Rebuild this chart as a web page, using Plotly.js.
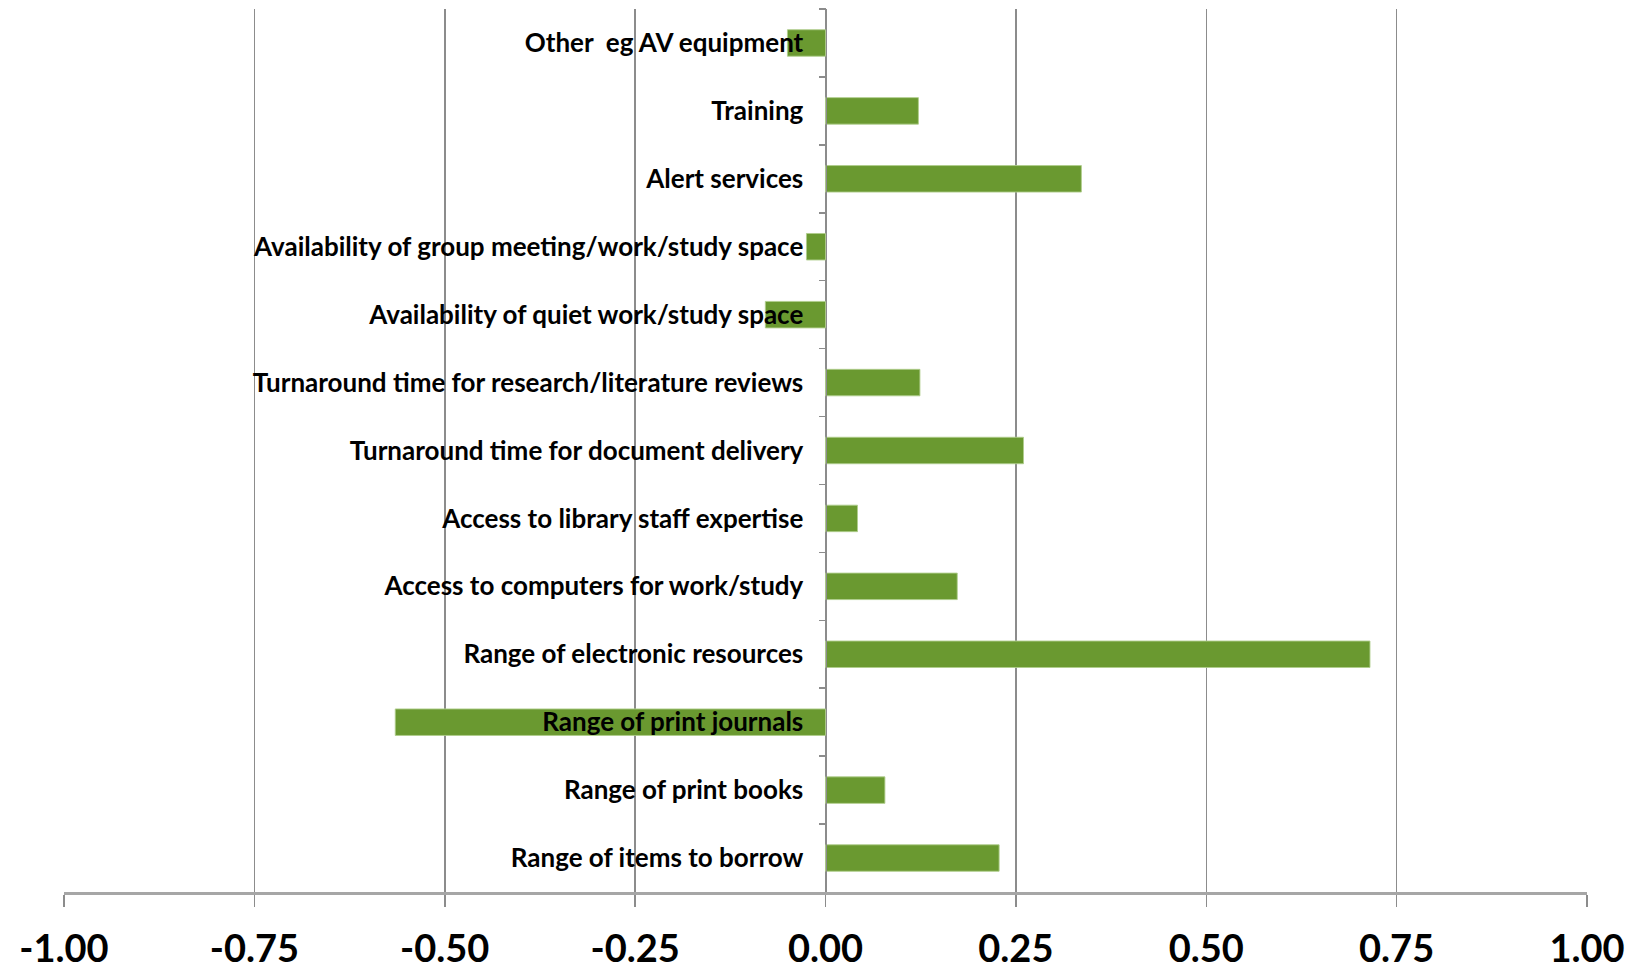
<!DOCTYPE html>
<html>
<head>
<meta charset="utf-8">
<script src="https://cdn.plot.ly/plotly-3.0.1.min.js"></script>
<style>
  html, body { margin: 0; padding: 0; background: #ffffff; }
  #chart { width: 1638px; height: 970px; }
</style>
</head>
<body>
<div id="chart"></div>
<script>
// Service areas, listed top to bottom as they appear on the chart
const categories = [
  "Other\u00a0\u00a0eg AV equipment",
  "Training",
  "Alert services",
  "Availability of group meeting/work/study space",
  "Availability of quiet work/study space",
  "Turnaround time for research/literature reviews",
  "Turnaround time for document delivery",
  "Access to library staff expertise",
  "Access to computers for work/study",
  "Range of electronic resources",
  "Range of print journals",
  "Range of print books",
  "Range of items to borrow"
];

// Net score for each service area
const scores = [
  -0.050, 0.122, 0.336, -0.025, -0.079, 0.124, 0.260,
  0.042, 0.173, 0.715, -0.565, 0.078, 0.228
];

// Value axis ticks and their labels (plain hyphen for negatives)
const xTicks = [-1, -0.75, -0.5, -0.25, 0, 0.25, 0.5, 0.75, 1];
const xTickLabels = ["-1.00", "-0.75", "-0.50", "-0.25", "0.00", "0.25", "0.50", "0.75", "1.00"];

const labelFont = "Lato, 'Open Sans', sans-serif";

const trace = {
  type: "bar",
  orientation: "h",
  x: scores,
  y: categories,
  marker: {
    color: "#6a9930",
    line: { color: "rgba(175,205,140,0.9)", width: 1 }
  },
  hoverinfo: "x+y"
};

const layout = {
  width: 1638,
  height: 970,
  paper_bgcolor: "#ffffff",
  plot_bgcolor: "#ffffff",
  margin: { l: 64, r: 51, t: 9, b: 78 },
  showlegend: false,
  bargap: 0.61,
  xaxis: {
    range: [-1, 1],
    tickvals: xTicks,
    ticktext: xTickLabels,
    showgrid: true,
    gridcolor: "#8c8c8c",
    gridwidth: 1.5,
    zeroline: false,
    showline: true,
    linecolor: "#a6a6a6",
    linewidth: 2.5,
    ticks: "outside",
    ticklen: 12,
    tickwidth: 1.5,
    tickcolor: "#8c8c8c",
    ticklabelstandoff: 10,
    tickfont: { family: labelFont, size: 38, weight: 700, color: "#000000" },
    fixedrange: true
  },
  yaxis: {
    type: "category",
    autorange: "reversed",
    anchor: "free",
    position: 0.5,
    showgrid: false,
    zeroline: false,
    showline: true,
    linecolor: "#8c8c8c",
    linewidth: 1.5,
    ticks: "outside",
    tickson: "boundaries",
    ticklen: 7,
    tickwidth: 1.5,
    tickcolor: "#8c8c8c",
    ticklabelstandoff: 17,
    tickfont: { family: labelFont, size: 26, weight: 700, color: "#000000" },
    fixedrange: true
  }
};

Plotly.newPlot("chart", [trace], layout, { displayModeBar: false, staticPlot: true });
</script>
</body>
</html>
